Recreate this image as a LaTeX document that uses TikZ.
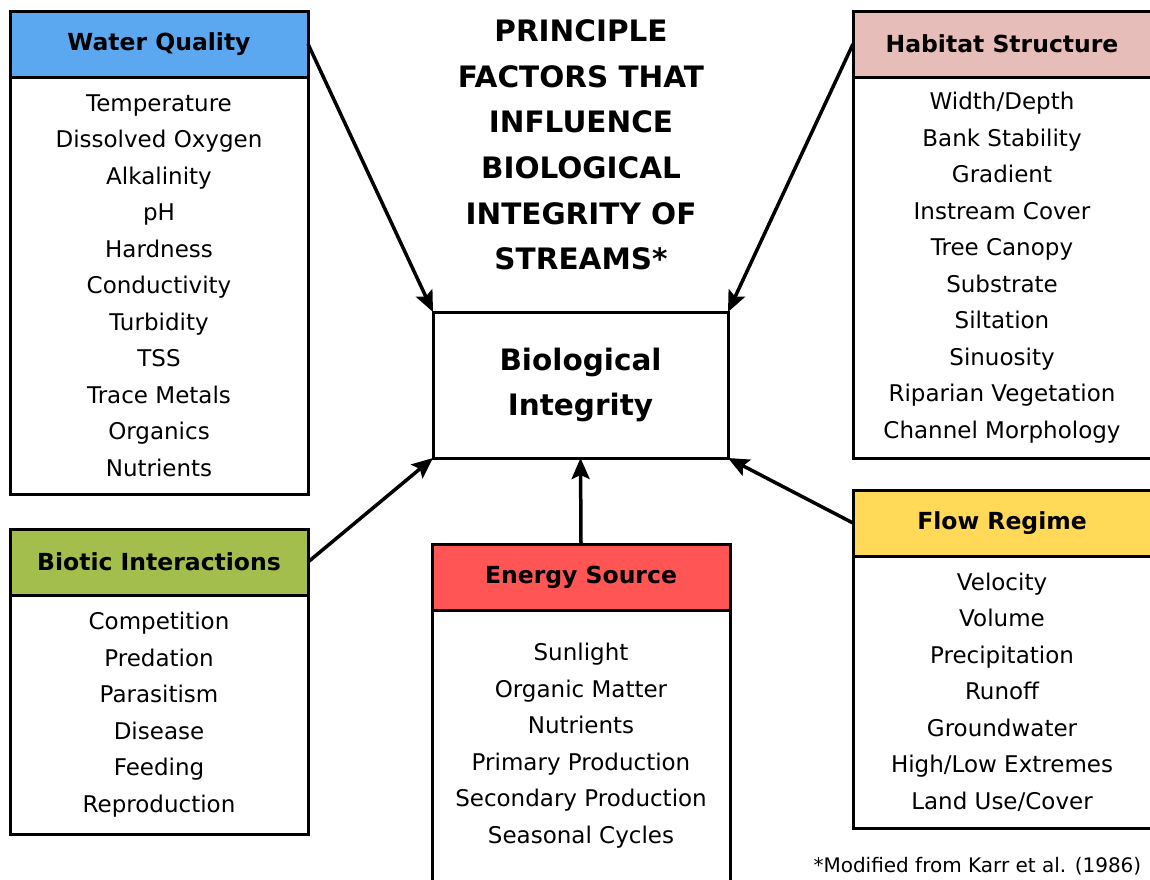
\documentclass[tikz,border=0pt]{standalone}
\usepackage{fontspec}
\setmainfont{DejaVu Sans}
\usetikzlibrary{positioning,arrows.meta}

\definecolor{wqblue}{RGB}{91,168,240}
\definecolor{hspink}{RGB}{230,189,185}
\definecolor{bigreen}{RGB}{163,190,77}
\definecolor{esred}{RGB}{255,85,85}
\definecolor{fryellow}{RGB}{255,217,87}

\tikzset{
  head/.style={draw, line width=3pt, outer sep=0pt, anchor=north west,
    minimum width=298pt, minimum height=66pt,
    font=\fontsize{23.5}{28}\selectfont\bfseries},
  list/.style={draw, line width=3pt, outer sep=0pt, below=0pt of #1,
    minimum width=298pt, align=center,
    font=\fontsize{23}{36.5}\selectfont},
  link/.style={line width=3.5pt, -{Stealth[length=21pt,width=18pt,inset=4pt]}}
}

\begin{document}
\begin{tikzpicture}[x=1pt, y=-1pt]
\useasboundingbox (0,0) rectangle (1150,879);

% title and centre box
\node[align=center, font=\fontsize{29.5}{45.6}\selectfont\bfseries] (title) at (581,145)
  {PRINCIPLE\\FACTORS THAT\\INFLUENCE\\BIOLOGICAL\\INTEGRITY OF\\STREAMS*};
\node[draw, line width=3pt, outer sep=0pt, minimum width=295pt, minimum height=146pt,
  align=center, font=\fontsize{29.5}{45}\selectfont\bfseries] (bio) at (580.5,385)
  {Biological\\Integrity};

% factor boxes
\node[head, fill=wqblue] (wq) at (10,11) {Water Quality};
\node[list=wq, minimum height=417pt] (wqlist) {Temperature\\Dissolved Oxygen\\Alkalinity\\pH\\Hardness\\Conductivity\\Turbidity\\TSS\\Trace Metals\\Organics\\Nutrients};

\node[head, fill=hspink] (hs) at (853,11) {Habitat Structure};
\node[list=hs, minimum height=381pt] (hslist) {Width/Depth\\Bank Stability\\Gradient\\Instream Cover\\Tree Canopy\\Substrate\\Siltation\\Sinuosity\\Riparian Vegetation\\Channel Morphology};

\node[head, fill=bigreen] (bi) at (10,529) {Biotic Interactions};
\node[list=bi, minimum height=239pt] (bilist) {Competition\\Predation\\Parasitism\\Disease\\Feeding\\Reproduction};

\node[head, fill=esred] (es) at (432,544) {Energy Source};
\node[list=es, minimum height=271pt] (eslist) {Sunlight\\Organic Matter\\Nutrients\\Primary Production\\Secondary Production\\Seasonal Cycles};

\node[head, fill=fryellow] (fr) at (853,490) {Flow Regime};
\node[list=fr, minimum height=272pt] (frlist) {Velocity\\Volume\\Precipitation\\Runoff\\Groundwater\\High/Low Extremes\\Land Use/Cover};

% arrows into the centre
\draw[link] (wq.east) -- (bio.north west);
\draw[link] (hs.west) -- (bio.north east);
\draw[link] (bi.east) -- (bio.south west);
\draw[link] (fr.west) -- (bio.south east);
\draw[link] (es.north) -- (bio.south);

\node[anchor=west, font=\fontsize{20}{24}\selectfont] (note) at (810,866)
  {*Modified from Karr et al. (1986)};
\end{tikzpicture}
\end{document}
